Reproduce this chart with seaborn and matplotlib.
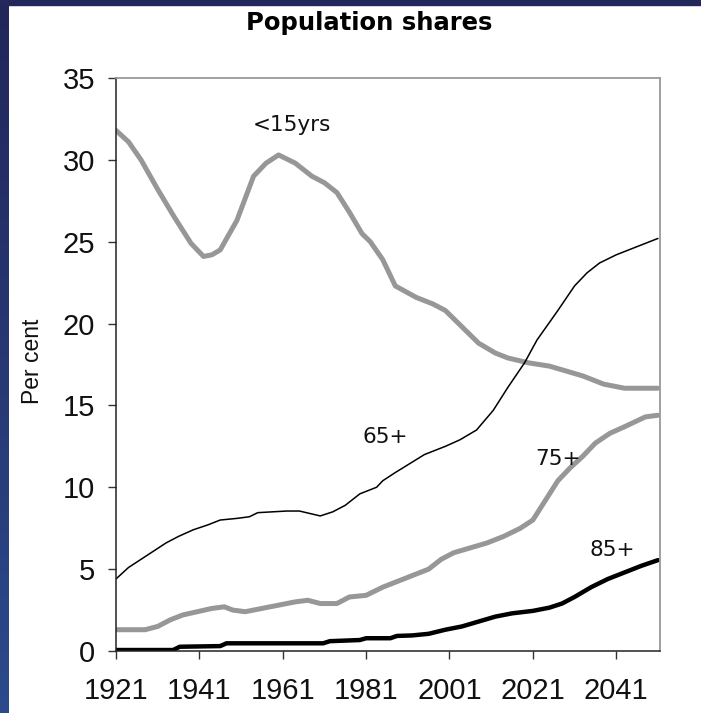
import matplotlib
matplotlib.use("Agg")
import matplotlib.pyplot as plt
import seaborn as sns
import numpy as np
import pandas as pd
from matplotlib.patches import Rectangle
from matplotlib.colors import LinearSegmentedColormap

years_u15 = [1921, 1924, 1927, 1931, 1935, 1939, 1942, 1944, 1946, 1950, 1954, 1957, 1960, 1964, 1968, 1971, 1974, 1977, 1980, 1982, 1985, 1988, 1993, 1997, 2000, 2004, 2008, 2012, 2015, 2020, 2025, 2029, 2033, 2038, 2043, 2051]
u15 = [31.8, 31.1, 30.0, 28.2, 26.5, 24.9, 24.1, 24.2, 24.5, 26.3, 29.0, 29.8, 30.3, 29.8, 29.0, 28.6, 28.0, 26.8, 25.5, 25.0, 23.9, 22.3, 21.6, 21.2, 20.8, 19.8, 18.8, 18.2, 17.9, 17.6, 17.4, 17.1, 16.8, 16.3, 16.05, 16.05]

years_65 = [1921, 1924, 1927, 1930, 1933, 1936, 1939.5, 1943, 1946, 1950, 1953, 1955, 1962, 1965, 1967.5, 1970, 1973, 1976, 1979.5, 1983.5, 1985, 1988, 1991.5, 1995, 2000, 2003.5, 2007.5, 2011.5, 2015, 2019, 2022, 2027, 2031, 2034, 2037, 2041, 2045, 2051]
p65 = [4.4, 5.1, 5.6, 6.1, 6.6, 7.0, 7.4, 7.7, 8.0, 8.1, 8.2, 8.45, 8.55, 8.55, 8.4, 8.25, 8.5, 8.9, 9.6, 10.0, 10.4, 10.9, 11.45, 12.0, 12.5, 12.9, 13.5, 14.7, 16.1, 17.6, 19.0, 20.8, 22.3, 23.1, 23.7, 24.2, 24.6, 25.2]

years_75 = [1921, 1928, 1931, 1934, 1937, 1940.5, 1944, 1947, 1949, 1952, 1956, 1960, 1964, 1967, 1970, 1974, 1977, 1981, 1985, 1988, 1992, 1996, 1999, 2002, 2006, 2010, 2014, 2018, 2021, 2024, 2027, 2030, 2033, 2036, 2039.5, 2043, 2048, 2051]
p75 = [1.3, 1.3, 1.5, 1.9, 2.2, 2.4, 2.6, 2.7, 2.5, 2.4, 2.6, 2.8, 3.0, 3.1, 2.9, 2.9, 3.3, 3.4, 3.9, 4.2, 4.6, 5.0, 5.6, 6.0, 6.3, 6.6, 7.0, 7.5, 8.0, 9.2, 10.4, 11.2, 11.9, 12.7, 13.3, 13.7, 14.3, 14.4]

years_85 = [1921, 1934.7, 1936.3, 1946, 1947.5, 1970.7, 1972.3, 1979.5, 1981, 1986.8, 1988.4, 1992, 1996, 2000, 2004, 2008, 2012, 2016, 2021, 2025, 2028, 2031, 2035, 2039, 2043, 2047, 2051]
p85 = [0.06, 0.06, 0.26, 0.3, 0.47, 0.47, 0.6, 0.67, 0.78, 0.78, 0.92, 0.95, 1.05, 1.3, 1.5, 1.8, 2.1, 2.3, 2.45, 2.65, 2.9, 3.3, 3.9, 4.4, 4.8, 5.2, 5.55]

labels = ["<15yrs", "65+", "75+", "85+"]
label_pos = [(1963.2, 32.1), (1985.5, 13.1), (2027, 11.7), (2040, 6.15)]
xticks = [1921, 1941, 1961, 1981, 2001, 2021, 2041]
yticks = [0, 5, 10, 15, 20, 25, 30, 35]

GRAY = "#979797"
TXT = "#111111"
sns.set_style("white")
plt.rcParams['font.family'] = ['DejaVu Sans']
plt.rcParams['text.color'] = TXT
plt.rcParams['axes.labelcolor'] = TXT

fig = plt.figure(figsize=(7.01, 7.13), dpi=100)
fig.patch.set_facecolor("white")

# navy frame at left and top
bax = fig.add_axes([0, 0, 9 / 701, 1])
grad = np.linspace(0, 1, 256).reshape(-1, 1)
cmap = LinearSegmentedColormap.from_list("nav", ["#22265a", "#2c4a8c"])
bax.imshow(grad, aspect="auto", cmap=cmap, extent=[0, 1, 1, 0])
bax.set_axis_off()
fig.patches.append(Rectangle((0, 1 - 5 / 713), 1, 5 / 713, transform=fig.transFigure, color="#23275a", zorder=5))

ax = fig.add_axes([116 / 701, 1 - 651 / 713, (660 - 116) / 701, (651 - 78) / 713])

sns.lineplot(x=years_u15, y=u15, ax=ax, color=GRAY, lw=3.6)
sns.lineplot(x=years_65, y=p65, ax=ax, color="black", lw=1.1)
sns.lineplot(x=years_75, y=p75, ax=ax, color=GRAY, lw=3.6)
sns.lineplot(x=years_85, y=p85, ax=ax, color="black", lw=3.2)

for t, (x, y) in zip(labels, label_pos):
    ax.text(x, y, t, fontsize=15.5, ha="center", va="center", color=TXT)

ax.set_xlim(1921, 2051.5)
ax.set_ylim(0, 35)
ax.set_xticks(xticks)
ax.set_yticks(yticks)
tick_font = ['Liberation Sans', 'DejaVu Sans']
ax.tick_params(axis="both", length=6, width=1, direction="out", color="#333333",
               labelcolor=TXT, left=True, bottom=True)
ax.tick_params(axis="x", pad=13)
ax.tick_params(axis="y", pad=9)
for lab in ax.get_xticklabels() + ax.get_yticklabels():
    lab.set_fontfamily(tick_font)
    lab.set_fontsize(21)
ax.set_xlabel("")
ax.set_ylabel("Per cent", fontsize=16.5, va="center", color=TXT, family=['Liberation Sans', 'DejaVu Sans'])
ax.yaxis.set_label_coords(-0.154, 0.506)
for s in ["left", "bottom"]:
    ax.spines[s].set_color("#222222")
    ax.spines[s].set_linewidth(1.1)
for s in ["top", "right"]:
    ax.spines[s].set_color("#999999")
    ax.spines[s].set_linewidth(1.3)

fig.text(369 / 701, 1 - 23 / 713, "Population shares", fontsize=17.5, fontweight="bold",
         ha="center", va="center", color="black")

fig.savefig("out.png", dpi=100, facecolor="white")
